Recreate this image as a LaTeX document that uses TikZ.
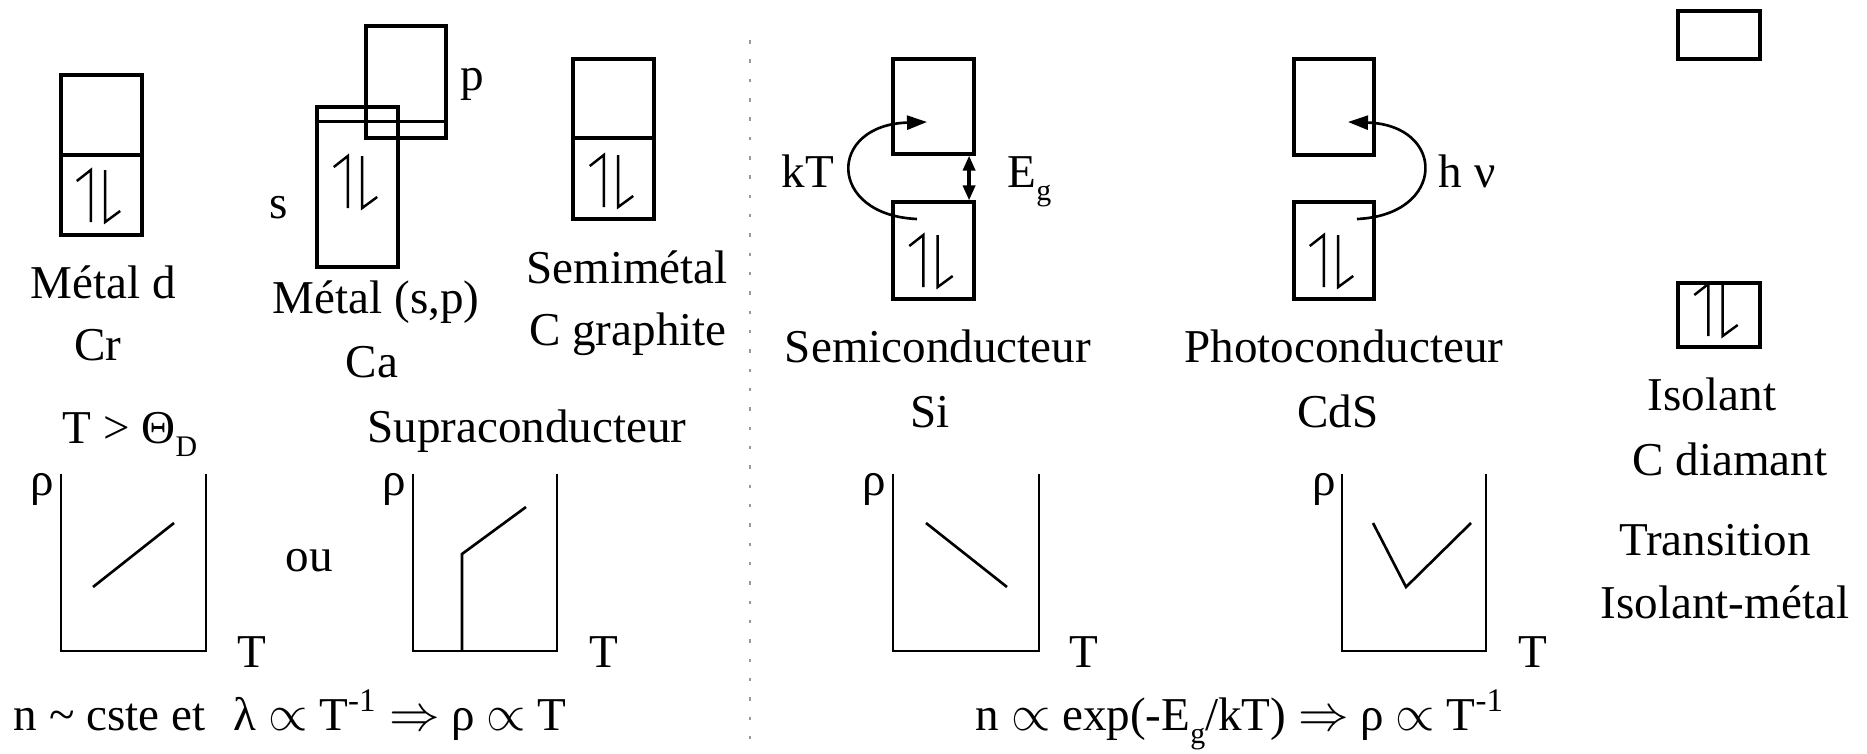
\documentclass[tikz,border=0pt]{standalone}
\usepackage{fontspec}
\setmainfont{Liberation Serif}
\usepackage{tikz}
\usetikzlibrary{arrows.meta}
\newcommand{\spinpair}[2]{%
  \draw[spin] (#1-0.072,#2-0.26) -- ++(0,0.52) -- ++(-0.14,-0.11);
  \draw[spin] (#1+0.072,#2+0.26) -- ++(0,-0.52) -- ++(0.15,0.11);}
\newcommand{\lowsub}[1]{\raisebox{-3.8pt}{\fontsize{8.5}{9}\selectfont #1}}

\begin{document}
\begin{tikzpicture}[every node/.style={font=\fontsize{13.4}{16}\selectfont},
                    band/.style={draw, line width=0.9pt, inner sep=0pt, minimum width=0.81cm},
                    spin/.style={line width=0.7pt},
                    axe/.style={line width=0.8pt},
                    courbe/.style={line width=0.75pt},
                    saut/.style={-{Triangle[length=2mm,width=1.4mm]}, line width=0.75pt},
                    gap/.style={{Triangle[length=1.5mm,width=1.2mm]}-{Triangle[length=1.5mm,width=1.2mm]}, line width=1pt},
                    txt/.style={anchor=base, inner sep=0pt}]
  \useasboundingbox (0,0) rectangle (18.67,-7.53);
  % separation metaux / semiconducteurs
  \draw[gray!80, line width=0.4pt, dash pattern=on 1pt off 4.5pt] (7.50,-0.40) -- (7.50,-7.53);

  % metal d
  \node[band, minimum height=0.80cm] (dup) at (1.015,-1.15) {};
  \node[band, minimum height=0.80cm] (dlow) at (1.015,-1.95) {};
  \spinpair{0.98}{-1.96}
  \node[txt] (mdlbl) at (1.03,-2.98) {Métal d};
  \node[txt] (crlbl) at (0.98,-3.60) {Cr};

  % metal (s,p)
  \node[band, minimum height=1.60cm] (sband) at (3.575,-1.87) {};
  \node[band, minimum width=0.80cm, minimum height=1.12cm] (pband) at (4.06,-0.82) {};
  \coordinate (ef) at ([yshift=-0.16cm]sband.north west);
  \draw[line width=0.9pt] (ef) -- (ef -| pband.east);
  \spinpair{3.55}{-1.82}
  \node[txt] (slbl) at (2.79,-2.18) {s};
  \node[txt] (plbl) at (4.72,-0.90) {p};
  \node[txt] (splbl) at (3.76,-3.13) {Métal (s,p)};
  \node[txt] (calbl) at (3.72,-3.77) {Ca};

  % semimetal
  \node[band, minimum height=0.79cm] (gup) at (6.135,-0.985) {};
  \node[band, minimum height=0.81cm] (glow) at (6.135,-1.785) {};
  \spinpair{6.11}{-1.81}
  \node[txt] (smlbl) at (6.27,-2.83) {Semimétal};
  \node[txt] (grlbl) at (6.28,-3.45) {C graphite};

  % semiconducteur
  \node[band, minimum height=0.95cm] (sicb) at (9.335,-1.065) {};
  \node[band, minimum height=0.97cm] (sivb) at (9.335,-2.505) {};
  \spinpair{9.305}{-2.61}
  \draw[gap] ([xshift=-0.065cm]sicb.south east) -- ([xshift=-0.065cm]sivb.north east);
  \coordinate (kts) at (9.17,-2.19);
  \coordinate (kte) at (9.27,-1.22);
  \draw[saut] (kts) .. controls +(-0.90,0.04) and +(-1.00,-0.03) .. (kte);
  \node[txt] (ktlbl) at (8.08,-1.87) {kT};
  \node[txt, anchor=base west] (eglbl) at (10.07,-1.87) {E\lowsub{g}};
  \node[txt] (sclbl) at (9.38,-3.62) {Semiconducteur};
  \node[txt] (silbl) at (9.30,-4.27) {Si};

  % photoconducteur
  \node[band, minimum width=0.80cm, minimum height=0.96cm] (cdscb) at (13.34,-1.07) {};
  \node[band, minimum width=0.80cm, minimum height=0.97cm] (cdsvb) at (13.34,-2.505) {};
  \spinpair{13.31}{-2.61}
  \coordinate (hvs) at (13.57,-2.19);
  \coordinate (hve) at (13.48,-1.22);
  \draw[saut] (hvs) .. controls +(0.895,0.04) and +(0.985,-0.03) .. (hve);
  \node[txt, anchor=base west] (hvlbl) at (14.38,-1.87) {h ν};
  \node[txt] (pclbl) at (13.44,-3.62) {Photoconducteur};
  \node[txt] (cdslbl) at (13.38,-4.27) {CdS};

  % isolant
  \node[band, minimum width=0.82cm, minimum height=0.48cm] (isocb) at (17.19,-0.35) {};
  \node[band, minimum width=0.82cm, minimum height=0.64cm] (isovb) at (17.19,-3.15) {};
  \spinpair{17.155}{-3.10}
  \node[txt] (islbl) at (17.12,-4.10) {Isolant};
  \node[txt] (dilbl) at (17.30,-4.75) {C diamant};
  \node[txt] (trlbl) at (17.15,-5.55) {Transition};
  \node[txt] (imlbl) at (17.25,-6.18) {Isolant-métal};

  % resistivites
  \node[txt, anchor=base west] (thlbl) at (0.62,-4.43) {T > Θ\lowsub{D}};
  \node[txt] (sulbl) at (5.27,-4.42) {Supraconducteur};
  \node[txt] (oulbl) at (3.09,-5.71) {ou};
  \draw[axe] (0.61,-4.74) |- (2.06,-6.51) -- (2.06,-4.74);
  \draw[courbe] (0.93,-5.87) -- (1.74,-5.23);
  \draw[axe] (4.13,-4.74) |- (5.57,-6.51) -- (5.57,-4.74);
  \draw[courbe] (4.62,-6.51) -- (4.62,-5.54) -- (5.26,-5.07);
  \draw[axe] (8.93,-4.74) |- (10.39,-6.51) -- (10.39,-4.74);
  \draw[courbe] (9.26,-5.23) -- (10.07,-5.87);
  \draw[axe] (13.42,-4.74) |- (14.86,-6.51) -- (14.86,-4.74);
  \draw[courbe] (13.73,-5.23) -- (14.06,-5.87) -- (14.71,-5.23);
  \node[txt] (rho1) at (0.42,-4.95) {ρ};
  \node[txt] (rho2) at (3.94,-4.95) {ρ};
  \node[txt] (rho3) at (8.74,-4.95) {ρ};
  \node[txt] (rho4) at (13.24,-4.95) {ρ};
  \node[txt] (t1) at (2.52,-6.67) {T};
  \node[txt] (t2) at (6.04,-6.67) {T};
  \node[txt] (t3) at (10.84,-6.67) {T};
  \node[txt] (t4) at (15.33,-6.67) {T};

  % lois
  \node[txt, anchor=base west] (loimet) at (0.13,-7.30)
    {n \textasciitilde{} cste et\hspace{0.6em}λ $\propto$ T\textsuperscript{-1} $\Rightarrow$ ρ $\propto$ T};
  \node[txt, anchor=base west] (loisc) at (9.75,-7.30)
    {n $\propto$ exp(-E\lowsub{g}/kT) $\Rightarrow$ ρ $\propto$ T\textsuperscript{-1}};
\end{tikzpicture}
\end{document}
